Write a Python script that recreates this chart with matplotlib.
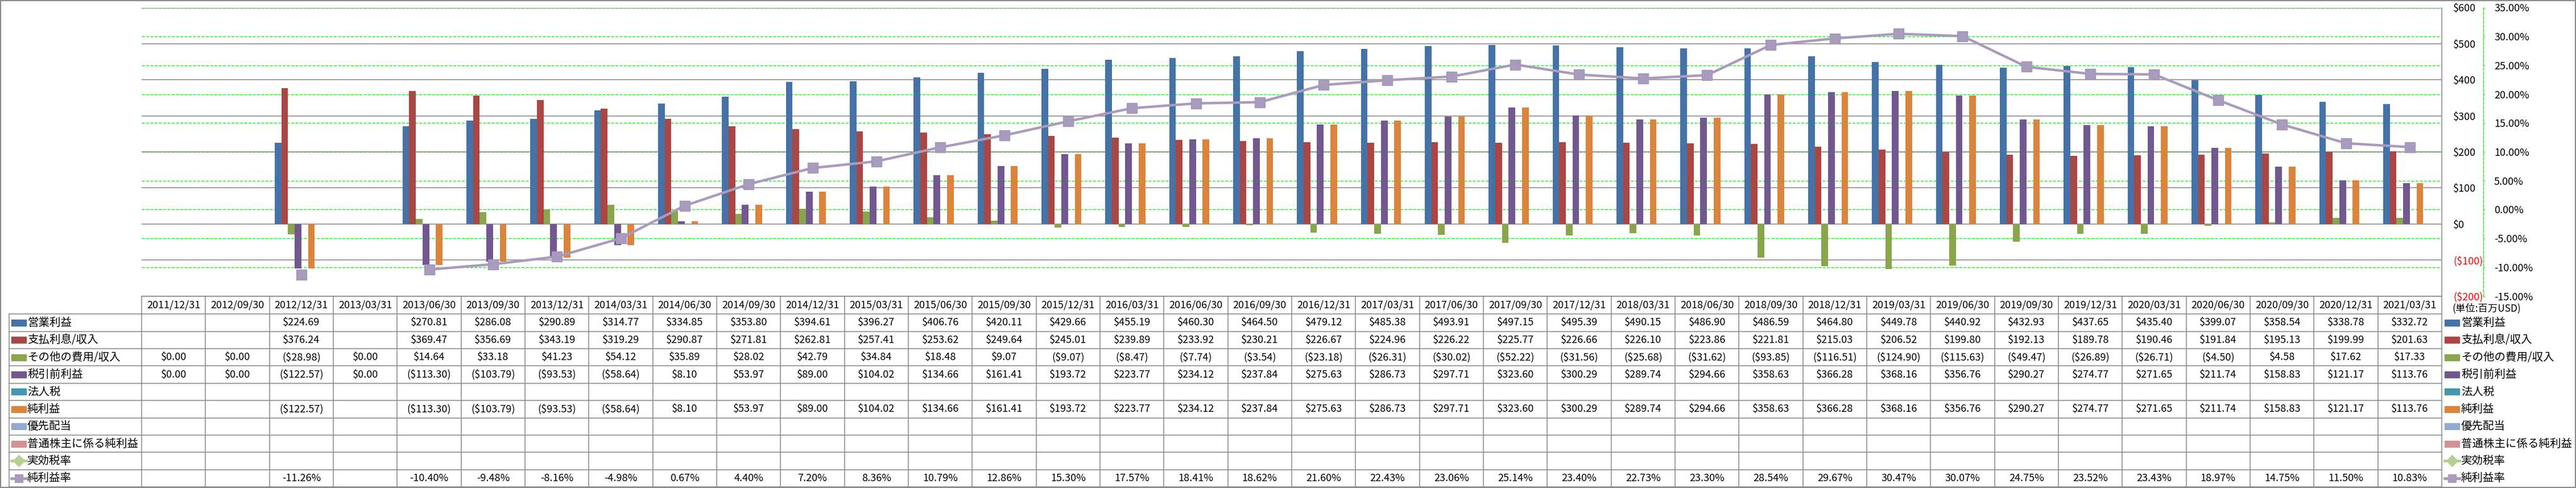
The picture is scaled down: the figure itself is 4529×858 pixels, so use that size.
import numpy as np
import matplotlib
matplotlib.use('Agg')
import matplotlib.pyplot as plt
import matplotlib.transforms as mtransforms
from matplotlib.patches import Rectangle
from matplotlib.lines import Line2D

plt.rcParams['font.family'] = ['Noto Sans CJK JP', 'DejaVu Sans']

nan = np.nan

dates = ['2011/12/31', '2012/09/30', '2012/12/31', '2013/03/31', '2013/06/30', '2013/09/30',
         '2013/12/31', '2014/03/31', '2014/06/30', '2014/09/30', '2014/12/31', '2015/03/31',
         '2015/06/30', '2015/09/30', '2015/12/31', '2016/03/31', '2016/06/30', '2016/09/30',
         '2016/12/31', '2017/03/31', '2017/06/30', '2017/09/30', '2017/12/31', '2018/03/31',
         '2018/06/30', '2018/09/30', '2018/12/31', '2019/03/31', '2019/06/30', '2019/09/30',
         '2019/12/31', '2020/03/31', '2020/06/30', '2020/09/30', '2020/12/31', '2021/03/31']

op_income = [nan, nan, 224.69, nan, 270.81, 286.08, 290.89, 314.77, 334.85, 353.80, 394.61, 396.27,
             406.76, 420.11, 429.66, 455.19, 460.30, 464.50, 479.12, 485.38, 493.91, 497.15, 495.39, 490.15,
             486.90, 486.59, 464.80, 449.78, 440.92, 432.93, 437.65, 435.40, 399.07, 358.54, 338.78, 332.72]
interest = [nan, nan, 376.24, nan, 369.47, 356.69, 343.19, 319.29, 290.87, 271.81, 262.81, 257.41,
            253.62, 249.64, 245.01, 239.89, 233.92, 230.21, 226.67, 224.96, 226.22, 225.77, 226.66, 226.10,
            223.86, 221.81, 215.03, 206.52, 199.80, 192.13, 189.78, 190.46, 191.84, 195.13, 199.99, 201.63]
other = [0.00, 0.00, -28.98, 0.00, 14.64, 33.18, 41.23, 54.12, 35.89, 28.02, 42.79, 34.84,
         18.48, 9.07, -9.07, -8.47, -7.74, -3.54, -23.18, -26.31, -30.02, -52.22, -31.56, -25.68,
         -31.62, -93.85, -116.51, -124.90, -115.63, -49.47, -26.89, -26.71, -4.50, 4.58, 17.62, 17.33]
pretax = [0.00, 0.00, -122.57, 0.00, -113.30, -103.79, -93.53, -58.64, 8.10, 53.97, 89.00, 104.02,
          134.66, 161.41, 193.72, 223.77, 234.12, 237.84, 275.63, 286.73, 297.71, 323.60, 300.29, 289.74,
          294.66, 358.63, 366.28, 368.16, 356.76, 290.27, 274.77, 271.65, 211.74, 158.83, 121.17, 113.76]
tax = [nan] * 36
net_income = [nan, nan, -122.57, nan, -113.30, -103.79, -93.53, -58.64, 8.10, 53.97, 89.00, 104.02,
              134.66, 161.41, 193.72, 223.77, 234.12, 237.84, 275.63, 286.73, 297.71, 323.60, 300.29, 289.74,
              294.66, 358.63, 366.28, 368.16, 356.76, 290.27, 274.77, 271.65, 211.74, 158.83, 121.17, 113.76]
pref_div = [nan] * 36
common_net = [nan] * 36
eff_tax = [nan] * 36
net_margin = [nan, nan, -11.26, nan, -10.40, -9.48, -8.16, -4.98, 0.67, 4.40, 7.20, 8.36,
              10.79, 12.86, 15.30, 17.57, 18.41, 18.62, 21.60, 22.43, 23.06, 25.14, 23.40, 22.73,
              23.30, 28.54, 29.67, 30.47, 30.07, 24.75, 23.52, 23.43, 18.97, 14.75, 11.50, 10.83]

bar_names = ['営業利益', '支払利息/収入', 'その他の費用/収入', '税引前利益', '法人税', '純利益',
             '優先配当', '普通株主に係る純利益']
bar_values = [op_income, interest, other, pretax, tax, net_income, pref_div, common_net]
bar_colors = ['#4572A7', '#AA4643', '#89A54E', '#71588F', '#4198AF', '#DB843D', '#93A9CF', '#D19392']
line_names = ['実効税率', '純利益率']
line_values = [eff_tax, net_margin]
line_colors = ['#B9CD96', '#A99BBD']
line_markers = ['D', 's']

usd_ticks = list(range(-200, 601, 100))
pct_ticks = list(range(-15, 36, 5))


def fmt_usd(v):
    if np.isnan(v):
        return ''
    if v < 0:
        return f'(${-v:,.2f})'
    return f'${v:,.2f}'


def fmt_pct(v):
    if np.isnan(v):
        return ''
    return f'{v:.2f}%'


W, H = 4529, 858
px = 72 / 100  # points per pixel at dpi 100
fig = plt.figure(figsize=(W / 100, H / 100), dpi=100)

plot_l, plot_r, plot_t, plot_b = 249, 4293, 13.5, 520.6
ax = fig.add_axes([plot_l / W, 1 - plot_b / H, (plot_r - plot_l) / W, (plot_b - plot_t) / H])
ax2 = ax.twinx()
ax.set_zorder(ax2.get_zorder() + 1)
ax.patch.set_visible(False)

x = np.arange(len(dates))
bw = 0.104
for k, (vals, col) in enumerate(zip(bar_values, bar_colors)):
    vals = np.array(vals)
    ok = ~np.isnan(vals)
    if ok.any():
        ax.bar(x[ok] + (k - 3.5) * bw, vals[ok], width=bw, color=col, lw=0, zorder=2)

line_tf = mtransforms.blended_transform_factory(ax.transData, ax2.transData)
ax.plot(x, net_margin, color=line_colors[1], lw=3.2, marker='s', markersize=12.5,
        markerfacecolor='#A99BBD', markeredgecolor='#A496BA', transform=line_tf, zorder=3)

ax.set_xlim(-0.5, len(dates) - 0.5)
ax.set_ylim(-200, 600)
ax.set_xticks([])
ax.set_yticks(usd_ticks)
ax.set_yticklabels([f'(${-v})' if v < 0 else f'${v}' for v in usd_ticks])
ax.yaxis.tick_right()
ax.tick_params(axis='y', length=0, pad=20 * px, labelsize=13)
for lab, v in zip(ax.get_yticklabels(), usd_ticks):
    lab.set_color('red' if v < 0 else 'black')
ax.grid(axis='y', color='#868686', lw=1.1)
ax.set_axisbelow(True)
for s in ['left', 'top', 'right', 'bottom']:
    ax.spines[s].set_visible(False)

# green dashed grid: about 5px dash, 2.5px gap
glw = 1.05
dash = (0, (5 * px / glw, 2.5 * px / glw))
ax2.set_ylim(-15, 35)
ax2.set_yticks(pct_ticks)
ax2.set_yticklabels([f'{v:.2f}%' for v in pct_ticks])
ax2.set_xticks([])
ax2.grid(axis='y', color='#00FF00', lw=glw, ls=dash)
ax2.tick_params(axis='y', length=3 * px, color='#00FF00', pad=16 * px, labelsize=13)
for lab, v in zip(ax2.get_yticklabels(), pct_ticks):
    lab.set_color('red' if v < 0 else 'black')
for s in ['left', 'top', 'bottom']:
    ax2.spines[s].set_visible(False)
ax2.spines['right'].set_position(('outward', 73 * px))
ax2.spines['right'].set_color('#00FF00')
ax2.spines['right'].set_linestyle(dash)
ax2.spines['right'].set_linewidth(glw)

# data table drawn under the plot
ov = fig.add_axes([0, 0, 1, 1], zorder=-1)
ov.set_xlim(0, W)
ov.set_ylim(H, 0)
ov.axis('off')
tf = mtransforms.blended_transform_factory(ax.transData, ov.transData)

grid_c = '#888888'
head_b = 552.3
tab_b = 856.0
nrows = len(bar_names) + len(line_names)
row_h = (tab_b - head_b) / nrows
row_y = [head_b + (r + 0.5) * row_h for r in range(nrows)]

ov.plot([-0.5, len(dates) - 0.5], [plot_b, plot_b], color=grid_c, lw=1.1, transform=tf)
for r in range(nrows + 1):
    yy = head_b + r * row_h
    ov.plot([16, plot_l], [yy, yy], color=grid_c, lw=1.1)
    ov.plot([-0.5, len(dates) - 0.5], [yy, yy], color=grid_c, lw=1.1, transform=tf)
ov.plot([16, 16], [head_b, tab_b], color=grid_c, lw=1.1)
for i in range(len(dates) + 1):
    top = plot_t if i == len(dates) else plot_b
    ov.plot([i - 0.5, i - 0.5], [top, tab_b], color=grid_c, lw=1.1, transform=tf)

for i, d in enumerate(dates):
    ov.text(i, (plot_b + head_b) / 2, d, ha='center', va='center', fontsize=13, transform=tf)

all_values = bar_values + line_values
for r, vals in enumerate(all_values):
    for i, v in enumerate(vals):
        s = fmt_pct(v) if r >= len(bar_names) else fmt_usd(v)
        if s:
            ov.text(i, row_y[r], s, ha='center', va='center', fontsize=13, transform=tf)


def draw_key(x0, yc, r):
    if r < len(bar_names):
        ov.add_patch(Rectangle((x0, yc - 5.5), 26, 11, color=bar_colors[r]))
    else:
        j = r - len(bar_names)
        ov.add_line(Line2D([x0, x0 + 26], [yc, yc], color=line_colors[j], lw=3.5))
        ov.add_line(Line2D([x0 + 13], [yc], color=line_colors[j], marker=line_markers[j],
                           markersize=10, lw=0))


names = bar_names + line_names
for r, name in enumerate(names):
    draw_key(20, row_y[r], r)
    ov.text(48, row_y[r], name, ha='left', va='center', fontsize=14)
    draw_key(4298, row_y[r], r)
    ov.text(4327, row_y[r], name, ha='left', va='center', fontsize=14)

ov.text(4311, 542, '(単位:百万USD)', ha='left', va='center', fontsize=12.5)
ov.add_patch(Rectangle((0.5, 1), W - 1.5, H - 2, fill=False, edgecolor='#888888', lw=1.4))

fig.savefig('out.png', dpi=100)
